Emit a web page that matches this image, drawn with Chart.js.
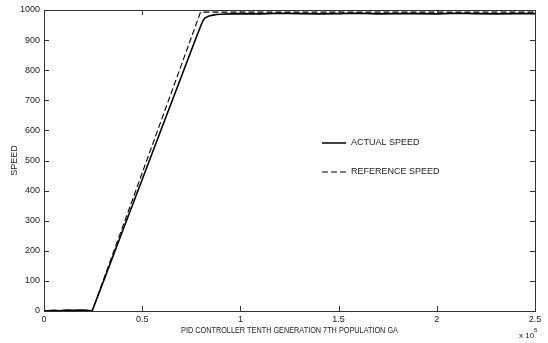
<!DOCTYPE html>
<html><head><meta charset="utf-8">
<script src="https://cdn.jsdelivr.net/npm/chart.js@4.4.1/dist/chart.umd.min.js"></script>
<style>html,body{margin:0;padding:0;background:#fff}#wrap{width:548px;height:343px}</style>
</head><body><div id="wrap"><canvas id="c" width="548" height="343"></canvas></div>
<script>
// x in units of 1e5
const actualX = [0,0.02,0.05,0.08,0.1,0.12,0.15,0.18,0.2,0.22,0.245,0.3,0.4,0.5,0.6,0.7,0.76,0.78,0.8,0.81,0.82,0.84,0.86,0.88,0.9,0.95,1.0,1.1,1.2,1.3,1.4,1.5,1.6,1.7,1.8,1.9,2.0,2.1,2.2,2.3,2.4,2.5];
const actualY = [0,1,2,1,2,3,2,3,3,2,0,94,266,437,609,780,883,917,950,965,974,980,983,985,986,987,988,987,989,988,987,988,989,987,988,988,987,989,988,987,988,988];
const refX = [0,0.245,0.797,2.5];
const refY = [0,0,993,993];
const xTicks = [0,0.5,1,1.5,2,2.5];
const yTicks = [0,100,200,300,400,500,600,700,800,900,1000];
const seriesNames = ['ACTUAL SPEED','REFERENCE SPEED'];
const xTitle = 'PID CONTROLLER TENTH GENERATION 7TH POPULATION GA';
const yTitle = 'SPEED';

const FONT = '"Liberation Sans", Arial, sans-serif';

const boxPlugin = {
  id:'box',
  afterDraw(chart){
    const {ctx, chartArea:a, scales:{x,y}} = chart;
    ctx.save();
    ctx.strokeStyle='#333'; ctx.lineWidth=1;
    ctx.strokeRect(Math.round(a.left)+0.5, Math.round(a.top)+0.5, Math.round(a.right-a.left), Math.round(a.bottom-a.top));
    ctx.beginPath();
    xTicks.forEach(v=>{const px=Math.round(x.getPixelForValue(v))+0.5;
      ctx.moveTo(px,a.bottom); ctx.lineTo(px,a.bottom-5);
      ctx.moveTo(px,a.top); ctx.lineTo(px,a.top+5);});
    yTicks.forEach(v=>{const py=Math.round(y.getPixelForValue(v))+0.5;
      ctx.moveTo(a.left,py); ctx.lineTo(a.left+5,py);
      ctx.moveTo(a.right,py); ctx.lineTo(a.right-5,py);});
    ctx.stroke();
    // legend
    const lx = a.left + 278, ly1 = a.top + 133, ly2 = a.top + 162;
    ctx.strokeStyle='#000'; ctx.lineWidth=1.5;
    ctx.beginPath(); ctx.moveTo(lx,ly1); ctx.lineTo(lx+24,ly1); ctx.stroke();
    ctx.setLineDash([6,3]); ctx.lineWidth=1.2;
    ctx.beginPath(); ctx.moveTo(lx,ly2); ctx.lineTo(lx+24,ly2); ctx.stroke();
    ctx.setLineDash([]);
    ctx.fillStyle='#222'; ctx.font='9px '+FONT; ctx.textBaseline='middle'; ctx.textAlign='left';
    ctx.fillText(seriesNames[0], lx+29, ly1);
    ctx.fillText(seriesNames[1], lx+29, ly2);
    // x title (condensed)
    ctx.save();
    ctx.translate((a.left+a.right)/2, 331);
    ctx.scale(0.81,1);
    ctx.textAlign='center';
    ctx.fillText(xTitle, 0, 0);
    ctx.restore();
    // multiplier
    ctx.textAlign='left';
    ctx.font='8px '+FONT;
    ctx.fillText('x 10', a.right-16, 336);
    ctx.font='6px '+FONT;
    ctx.fillText('5', a.right-1, 330);
    // y title
    ctx.font='9px '+FONT;
    ctx.translate(15,(a.top+a.bottom)/2); ctx.rotate(-Math.PI/2);
    ctx.textAlign='center'; ctx.fillText(yTitle,0,0);
    ctx.restore();
  }
};

new Chart(document.getElementById('c'),{
  type:'line',
  data:{datasets:[
    {label:seriesNames[0], data:actualX.map((v,i)=>({x:v,y:actualY[i]})), borderColor:'#000', borderWidth:1.6, pointRadius:0, tension:0, fill:false},
    {label:seriesNames[1], data:refX.map((v,i)=>({x:v,y:refY[i]})), borderColor:'#000', borderWidth:1.1, borderDash:[6,3], pointRadius:0, tension:0, fill:false}
  ]},
  options:{
    responsive:false, animation:false, devicePixelRatio:1,
    layout:{padding:{top:10,right:13,left:0,bottom:0}},
    plugins:{legend:{display:false}, tooltip:{enabled:false}},
    scales:{
      x:{type:'linear', min:0, max:2.5, afterBuildTicks:s=>{s.ticks=xTicks.map(v=>({value:v}));},
        afterFit:s=>{s.height=32;},
        grid:{display:false, drawTicks:false}, border:{display:false},
        ticks:{color:'#222', font:{family:FONT,size:9}, padding:3, maxRotation:0, callback:v=>String(v)}},
      y:{type:'linear', min:0, max:1000, afterBuildTicks:s=>{s.ticks=yTicks.map(v=>({value:v}));},
        afterFit:s=>{s.width=44;},
        grid:{display:false, drawTicks:false}, border:{display:false},
        ticks:{color:'#222', font:{family:FONT,size:9}, padding:4, callback:v=>String(v)}}
    }
  },
  plugins:[boxPlugin]
});
</script></body></html>
